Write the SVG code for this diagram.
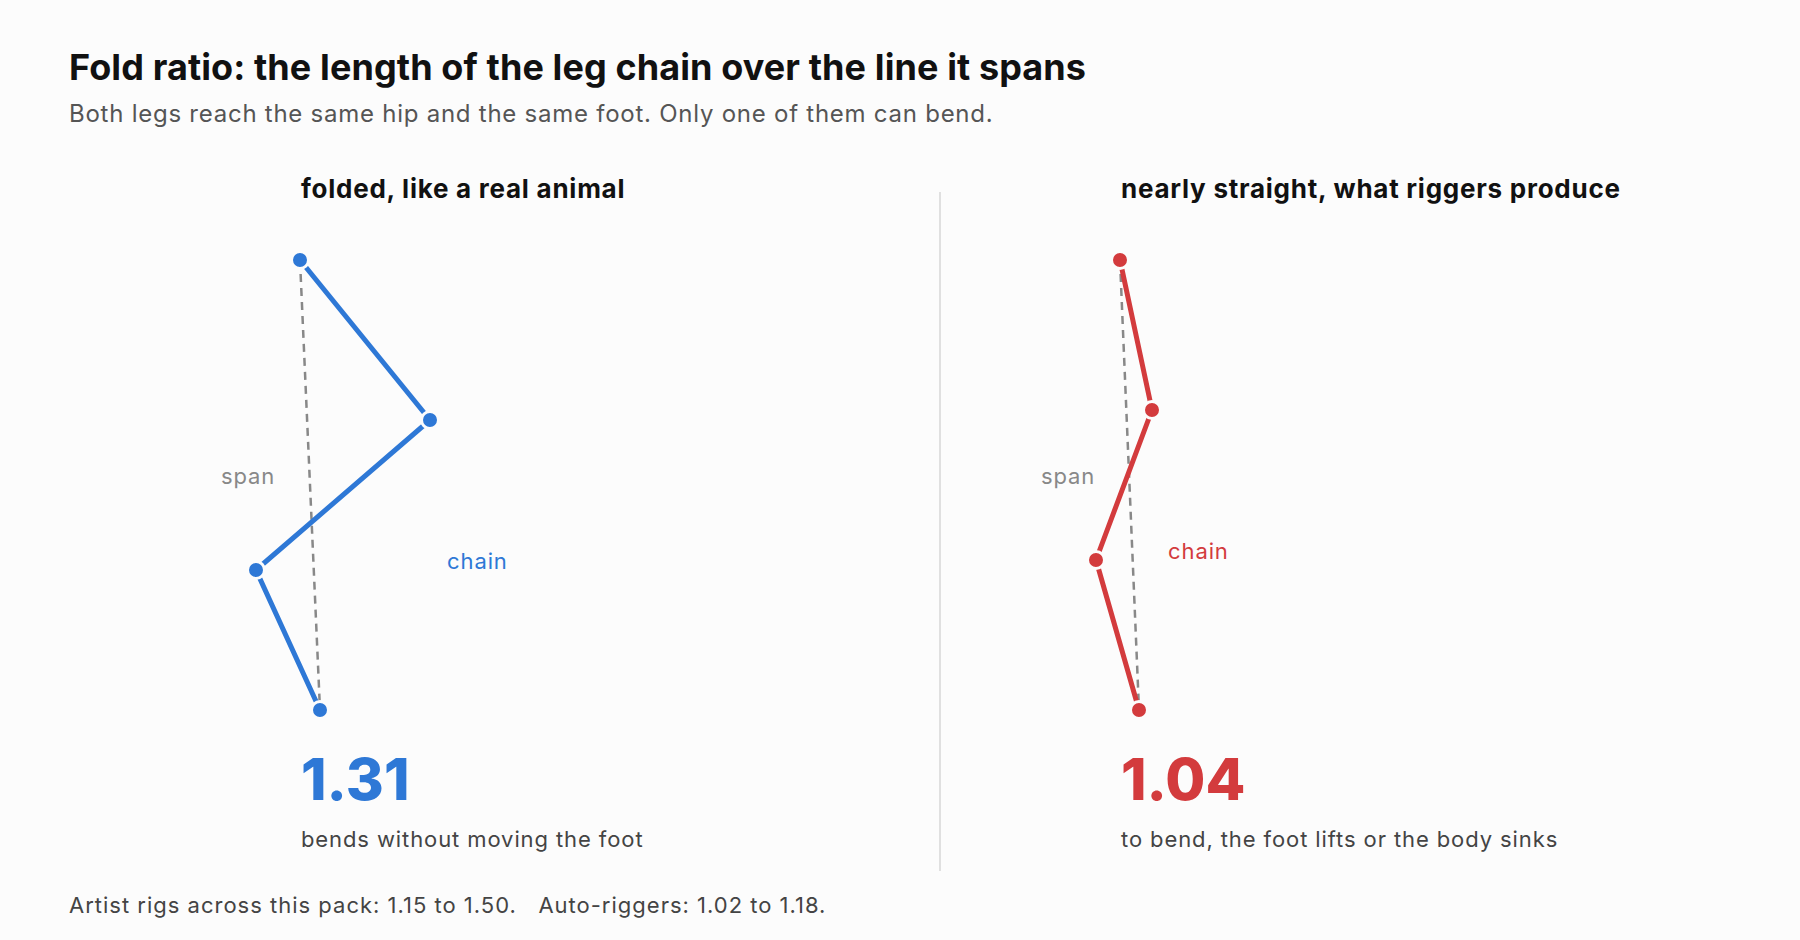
<svg xmlns="http://www.w3.org/2000/svg" width="1800" height="940" viewBox="0 0 1800 940">
<style>
text{font-family:Inter,"Noto Sans","Liberation Sans",sans-serif}
.title{font-size:36px;font-weight:700;letter-spacing:0.1px;fill:#111}
.sub{font-size:24px;letter-spacing:0.75px;fill:#555}
.ptitle{font-size:26px;font-weight:700;letter-spacing:0.75px;fill:#111}
.big{font-size:58px;font-weight:800}
.cap{font-size:22px;letter-spacing:0.9px;fill:#444}
.lbl{font-size:22px;letter-spacing:0.9px}
.span-lbl{fill:#888}
.blue{fill:#2e78d6}
.red{fill:#d33b3d}
.span{stroke:#888;stroke-width:2.5;stroke-dasharray:8 6;fill:none}
.chain-b{stroke:#2e78d6;stroke-width:5;fill:none;stroke-linecap:round;stroke-linejoin:round}
.chain-r{stroke:#d33b3d;stroke-width:5;fill:none;stroke-linecap:round;stroke-linejoin:round}
.jb{fill:#2e78d6;stroke:#fcfcfc;stroke-width:3}
.jr{fill:#d33b3d;stroke:#fcfcfc;stroke-width:3}
.foot{font-size:22px;letter-spacing:1px;fill:#444;white-space:pre}
</style>
<rect width="1800" height="940" fill="#fcfcfc"/>
<text class="title" x="69" y="80">Fold ratio: the length of the leg chain over the line it spans</text>
<text class="sub" x="69" y="122">Both legs reach the same hip and the same foot. Only one of them can bend.</text>
<line x1="940" y1="192" x2="940" y2="871" stroke="#e0e0e0" stroke-width="2"/>
<g id="connectors">
<line class="span" x1="300" y1="260" x2="320" y2="710"/>
<polyline class="chain-b" points="300,260 430,420 256,570 320,710"/>
<line class="span" x1="1120" y1="260" x2="1139" y2="710"/>
<polyline class="chain-r" points="1120,260 1152,410 1096,560 1139,710"/>
</g>
<g id="left-panel">
<text class="ptitle" x="301" y="198">folded, like a real animal</text>
<text class="lbl span-lbl" x="221" y="484">span</text>
<text class="lbl blue" x="447" y="569">chain</text>
<text class="big blue" x="301" y="800">1.31</text>
<text class="cap" x="301" y="847">bends without moving the foot</text>
</g>
<g id="left-joints">
<circle class="jb" cx="300" cy="260" r="8.5"/>
<circle class="jb" cx="430" cy="420" r="8.5"/>
<circle class="jb" cx="256" cy="570" r="8.5"/>
<circle class="jb" cx="320" cy="710" r="8.5"/>
</g>
<g id="right-panel">
<text class="ptitle" x="1121" y="198">nearly straight, what riggers produce</text>
<text class="lbl span-lbl" x="1041" y="484">span</text>
<text class="lbl red" x="1168" y="559">chain</text>
<text class="big red" x="1121" y="800">1.04</text>
<text class="cap" x="1121" y="847">to bend, the foot lifts or the body sinks</text>
</g>
<g id="right-joints">
<circle class="jr" cx="1120" cy="260" r="8.5"/>
<circle class="jr" cx="1152" cy="410" r="8.5"/>
<circle class="jr" cx="1096" cy="560" r="8.5"/>
<circle class="jr" cx="1139" cy="710" r="8.5"/>
</g>
<text class="foot" x="69" y="913">Artist rigs across this pack: 1.15 to 1.50.   Auto-riggers: 1.02 to 1.18.</text>
</svg>
